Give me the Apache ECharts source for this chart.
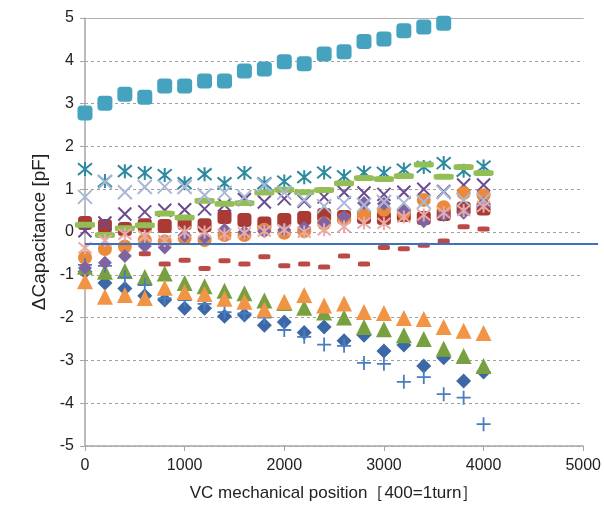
<!DOCTYPE html>
<html>
<head>
<meta charset="utf-8">
<script src="https://cdn.jsdelivr.net/npm/echarts@6/dist/echarts.min.js"></script>
<style>
html,body{margin:0;padding:0;background:#fff;}
#chart{width:604px;height:509px;}
</style>
</head>
<body>
<div id="chart"></div>
<script>
// ---- data ----
const xPos = [0,200,400,600,800,1000,1200,1400,1600,1800,2000,2200,2400,2600,2800,3000,3200,3400,3600,3800,4000];
const xTicks = [0,1000,2000,3000,4000,5000];
const yTicks = [-5,-4,-3,-2,-1,0,1,2,3,4,5];
const refLevel = -0.28;
const refLineEnd = 5150;

const blueDiamonds = [-0.93,-1.19,-1.32,-1.49,-1.59,-1.78,-1.78,-1.97,-1.94,-2.18,-2.10,-2.35,-2.22,-2.54,-2.41,-2.78,-2.64,-3.13,-2.94,-3.48,-3.27];
const redSquares = [0.21,0.14,0.07,0.16,0.14,0.21,0.16,0.35,0.28,0.20,0.28,0.33,0.40,0.35,0.35,0.33,0.40,0.33,0.42,0.55,0.55];
const greenTriangles = [-0.81,-0.93,-0.91,-1.05,-0.97,-1.19,-1.27,-1.37,-1.43,-1.60,-1.66,-1.77,-1.88,-2.00,-2.22,-2.27,-2.41,-2.50,-2.73,-2.90,-3.13];
const purpleCrosses = [0.03,0.21,0.42,0.47,0.51,0.52,0.54,0.63,0.76,0.70,0.78,0.72,0.82,0.93,0.91,0.88,0.93,1.00,0.95,1.10,1.10];
const tealStars = [1.47,1.19,1.42,1.38,1.33,1.14,1.35,1.14,1.38,1.14,1.18,1.28,1.39,1.30,1.39,1.38,1.46,1.52,1.61,1.43,1.53];
const orangeCircles = [-0.60,-0.40,-0.34,-0.19,-0.22,-0.14,-0.19,-0.07,-0.07,0.05,-0.02,0.02,0.20,0.30,0.40,0.52,0.45,0.75,0.58,0.91,0.86];
const bluePluses = [-0.77,-0.79,-1.06,-1.24,-1.55,-1.59,-1.68,-1.87,-1.90,-2.00,-2.29,-2.45,-2.63,-2.66,-3.06,-3.08,-3.50,-3.39,-3.79,-3.87,-4.49];
const redDashes = [null,null,null,-0.51,-0.75,-0.66,-0.85,-0.67,-0.75,-0.58,-0.79,-0.75,-0.82,-0.56,-0.75,-0.36,-0.39,-0.31,-0.21,0.12,0.07];
const greenBars = [0.17,-0.07,0.09,0.16,0.43,0.34,0.73,0.66,0.68,0.92,0.99,0.93,0.98,1.14,1.26,1.24,1.31,1.58,1.29,1.52,1.38];
const purpleDiamonds = [-0.84,-0.72,-0.56,-0.33,-0.36,-0.08,-0.12,0.05,0.00,0.02,0.05,0.10,0.22,0.35,0.68,0.66,0.50,0.25,0.40,0.45,0.66];
const tealSquares = [2.78,3.01,3.22,3.15,3.41,3.41,3.53,3.53,3.76,3.81,3.98,3.93,4.16,4.21,4.45,4.51,4.70,4.79,4.88];
const orangeTriangles = [-1.15,-1.51,-1.47,-1.54,-1.30,-1.40,-1.45,-1.56,-1.63,-1.81,-1.63,-1.47,-1.72,-1.67,-1.87,-1.89,-2.01,-2.03,-2.22,-2.31,-2.36];
const lightCrosses = [0.82,1.17,0.93,1.05,1.06,1.05,0.86,0.92,0.82,1.10,0.92,0.75,0.60,0.68,0.63,0.70,0.68,0.70,0.93,0.75,0.75];
const pinkStars = [-0.37,-0.20,-0.05,-0.10,-0.20,0.00,0.00,-0.05,-0.02,0.02,0.05,0.00,0.05,0.12,0.21,0.20,0.35,0.40,0.45,0.50,0.60];

// ---- chart ----
const pair = arr => arr.map((v,i) => [xPos[i], v]);
const X_PATH = 'path://M0,0L10,10M10,0L0,10';
const STAR_PATH = 'path://M0,0L10,10M10,0L0,10M5,-1L5,11';
const PLUS_PATH = 'path://M5,0L5,10M0,5L10,5';

function filled(name, data, symbol, size, color, z) {
  return {name, type:'scatter', data:pair(data), symbol, symbolSize:size, z:z,
    itemStyle:{color:color, opacity:1}, emphasis:{disabled:true}};
}
function stroked(name, data, symbol, size, color, z, w) {
  return {name, type:'scatter', data:pair(data), symbol, symbolSize:size, z:z,
    itemStyle:{color:'rgba(0,0,0,0)', borderColor:color, borderWidth:w||2, opacity:1}, emphasis:{disabled:true}};
}

const font = '"Liberation Sans", Arial, Helvetica, sans-serif';
const chart = echarts.init(document.getElementById('chart'), null, {renderer:'canvas'});
chart.setOption({
  animation:false,
  backgroundColor:'#ffffff',
  grid:{left:85, right:19, top:18, bottom:63, containLabel:false},
  xAxis:[{
    type:'value', min:xTicks[0], max:xTicks[xTicks.length-1], interval:1000,
    name:'VC mechanical position［400=1turn］', nameLocation:'middle', nameGap:39,
    nameTextStyle:{fontSize:17, color:'#222', fontFamily:font},
    axisLine:{show:true, onZero:false, lineStyle:{color:'#a6a6a6', width:1.5}},
    axisTick:{show:true, length:5, lineStyle:{color:'#a6a6a6'}},
    axisLabel:{fontSize:16, color:'#222', margin:12, fontFamily:font, formatter:v => String(v)},
    splitLine:{show:false}
  },{
    type:'value', position:'top', min:xTicks[0], max:xTicks[xTicks.length-1],
    axisLine:{show:true, onZero:false, lineStyle:{color:'#b0b0b0', width:1}},
    axisTick:{show:false}, axisLabel:{show:false}, splitLine:{show:false}
  }],
  yAxis:{
    type:'value', min:yTicks[0], max:yTicks[yTicks.length-1], interval:1,
    name:'ΔCapacitance [pF]', nameLocation:'middle', nameGap:36,
    nameTextStyle:{fontSize:19, color:'#222', fontFamily:font},
    axisLine:{show:true, onZero:false, lineStyle:{color:'#a6a6a6', width:1.5}},
    axisTick:{show:true, length:5, lineStyle:{color:'#a6a6a6'}},
    axisLabel:{fontSize:16, color:'#222', margin:11, fontFamily:font, formatter:v => String(v)},
    splitLine:{show:true, lineStyle:{color:'#a0a0a0', type:[3,3], width:1}}
  },
  series:[
    filled('s1', blueDiamonds, 'diamond', 15, '#3c68a8', 1),
    filled('s2', redSquares, 'roundRect', 14, '#a93a34', 2),
    filled('s3', greenTriangles, 'triangle', 16, '#77a040', 3),
    stroked('s4', purpleCrosses, X_PATH, 13, '#6a4b92', 4, 2),
    stroked('s5', tealStars, STAR_PATH, 14, '#2b8a9f', 5, 2),
    filled('s6', orangeCircles, 'circle', 14, '#ea8a3a', 6),
    stroked('s7', bluePluses, PLUS_PATH, 14, '#4a7cc0', 7, 1.8),
    filled('s8', redDashes, 'roundRect', [12,5], '#bb4a45', 8),
    filled('s9', greenBars, 'roundRect', [20,6], '#93bd55', 9),
    filled('s10', purpleDiamonds, 'diamond', 14, '#8064a2', 10),
    filled('s11', tealSquares, 'roundRect', 15, '#45a3c0', 11),
    filled('s12', orangeTriangles, 'triangle', 16, '#f29445', 12),
    stroked('s13', lightCrosses, X_PATH, 14, '#a9b7d5', 13, 2),
    stroked('s14', pinkStars, STAR_PATH, 13, '#e8aaa6', 14, 2)
  ]
});
// reference line, positioned through the axes' scales
const p0 = chart.convertToPixel({xAxisIndex:0, yAxisIndex:0}, [xTicks[0], refLevel]);
const p1 = chart.convertToPixel({xAxisIndex:0, yAxisIndex:0}, [refLineEnd, refLevel]);
chart.setOption({graphic:[{type:'line', z:100, silent:true,
  shape:{x1:p0[0], y1:p0[1], x2:p1[0], y2:p1[1]},
  style:{stroke:'#3d72c0', lineWidth:2}}]});
</script>
</body>
</html>
